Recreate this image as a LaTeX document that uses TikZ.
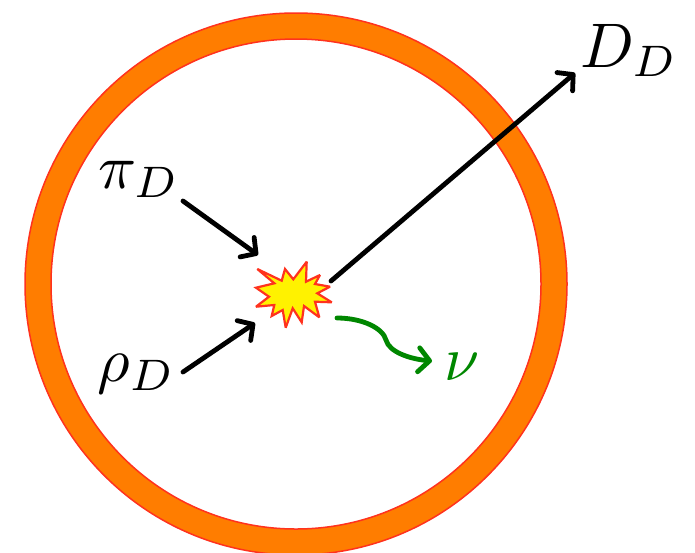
\documentclass[tikz,border=0pt]{standalone}
\usetikzlibrary{arrows.meta}
\definecolor{ringorange}{RGB}{255,125,0}
\definecolor{ringred}{RGB}{255,50,30}
\definecolor{nugreen}{RGB}{0,135,0}
\tikzset{
  lab/.style={anchor=base west,inner sep=0pt,outer sep=0pt,scale=6.3},
  arr/.style={line width=4.8pt,line cap=round,-{Straight Barb[length=11pt,width=24pt,line width=4.8pt,round]}},
}
\begin{document}
\begin{tikzpicture}[x=1pt,y=-1pt]
\useasboundingbox (0,0) rectangle (695,552);
\begin{scope}
\clip (0,0) rectangle (695,552);
\fill[white] (0,0) rectangle (695,552);
\draw[ringred,line width=1.5pt,fill=ringorange,even odd rule] (296,284) circle[radius=271] (296,284) circle[radius=245];
\end{scope}
\draw[ringred,line width=2.2pt,fill=yellow,line join=miter,miter limit=3]
 (257.3,269) -- (281.7,280.7) -- (285,269) -- (293.3,279.3) -- (306.7,261.7) -- (306,281.7) -- (320,275) -- (315,284) -- (330,286.7) -- (317.3,293.3) -- (331.7,302.3) -- (315,301.7) -- (319.3,317.3) -- (304,306) -- (301.7,322.3) -- (292.7,308.3) -- (285.7,327.7) -- (282.7,310) -- (271.7,316) -- (274.3,305) -- (256,306.7) -- (269,296.7) -- (256,287.7) -- (274.3,283.3) -- cycle;
\coordinate (pistart) at (183,201);
\coordinate (piend) at (258,255);
\coordinate (rhostart) at (183,372);
\coordinate (rhoend) at (255,323);
\coordinate (dstart) at (331,281);
\coordinate (dend) at (575,73);
\coordinate (nustart) at (337,318);
\coordinate (nuend) at (432,361);
\node[lab] (dd) at (580,67) {$D_D$};
\node[lab] (pid) at (98,188) {$\pi_D$};
\node[lab] (rhod) at (97,381) {$\rho_D$};
\node[lab,text=nugreen] (nu) at (444,380) {$\nu$};
\draw[arr] (pistart) -- (piend);
\draw[arr] (rhostart) -- (rhoend);
\draw[arr] (dstart) -- (dend);
\draw[arr,nugreen] (nustart) .. controls (362,318) and (383,328) .. (386,340) .. controls (389,352) and (410,359) .. (nuend);
\end{tikzpicture}
\end{document}
